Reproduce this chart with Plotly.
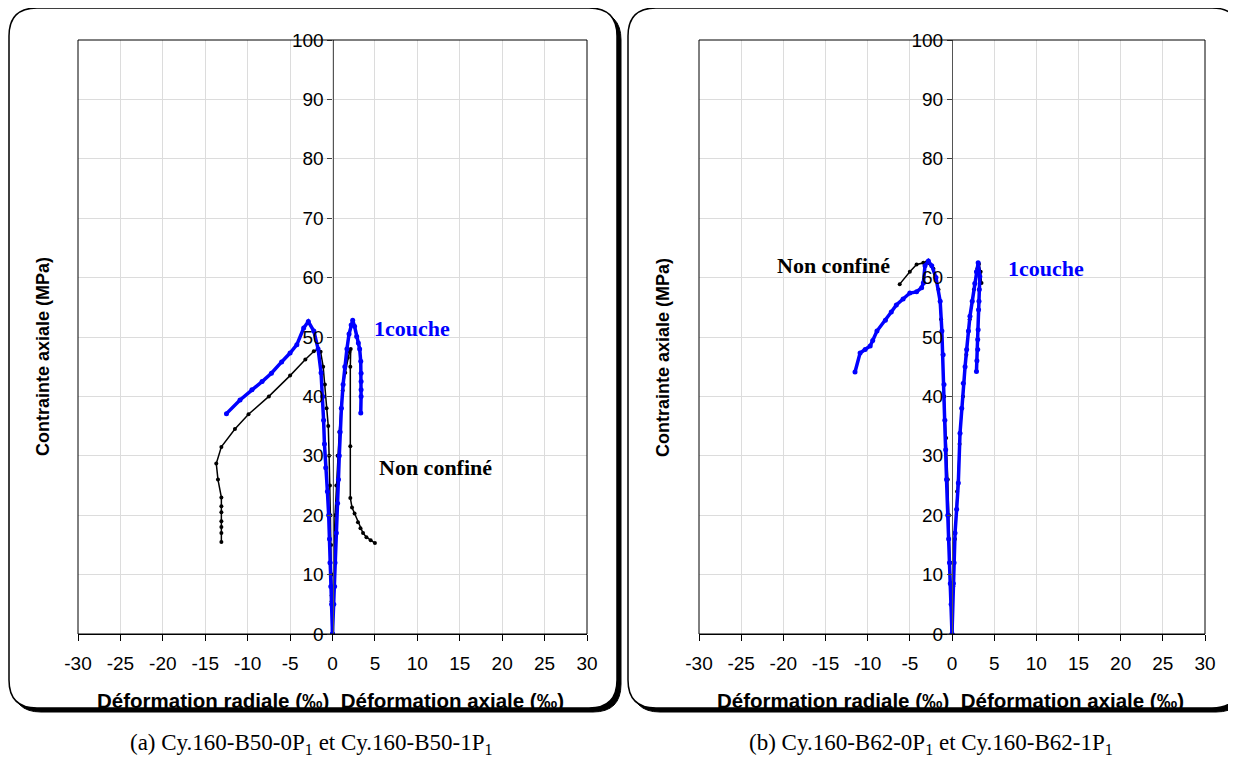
import plotly.graph_objects as go

W, H = 1236, 782
OFF = 8  # page body margin of the rendered html

# ---------------- data ----------------
# Panel (a) Cy.160-B50
a_nc_rad_x = [0, -0.1, -0.1, -0.15, -0.2, -0.25, -0.3, -0.4, -0.5, -0.7, -0.9, -1.1, -1.4, -1.7, -2.2, -3.2, -5.0,
              -7.5, -9.9, -11.5, -13.1, -13.7, -13.5, -13.1, -13.1, -13.1, -13.1, -13.1, -13.1, -13.1]
a_nc_rad_y = [0, 5.5, 6.5, 10, 15, 20, 25, 30, 35, 38, 42, 45, 47.5, 48, 47.6, 46.2, 43.5,
              40, 37, 34.5, 31.5, 28.7, 26, 23, 21.5, 20.5, 19, 18, 17, 15.5]
a_nc_ax_x = [0, 0.05, 0.1, 0.2, 0.3, 0.45, 0.6, 0.8, 1.0, 1.2, 1.5, 1.8, 2.0, 2.15, 2.1, 2.1, 2.1,
             2.3, 2.6, 3.0, 3.3, 3.6, 4.0, 4.5, 5.0]
a_nc_ax_y = [0, 5.5, 10, 15, 20, 25, 30, 34, 38, 41, 44, 46.5, 47.5, 48, 45, 31.6, 22.9,
             21.3, 20.3, 18.8, 17.8, 17.0, 16.3, 15.8, 15.3]
a_c1_rad_x = [0, -0.1, -0.2, -0.3, -0.35, -0.45, -0.6, -0.8, -0.95, -1.05, -1.15, -1.35, -1.7, -2.2, -2.85,
              -3.4, -4.2, -5.0, -6.0, -7.2, -8.3, -9.5, -10.9, -12.5]
a_c1_rad_y = [0, 5, 8, 12, 16, 20, 24, 28, 32, 36, 40, 44, 48, 51, 52.6,
              51.5, 48.7, 47.3, 45.8, 43.9, 42.5, 41.1, 39.4, 37.1]
a_c1_ax_x = [0, 0.15, 0.25, 0.3, 0.45, 0.6, 0.7, 0.8, 0.9, 1.05, 1.25, 1.45, 1.7, 1.95, 2.2, 2.38,
             2.6, 2.85, 3.05, 3.2, 3.33, 3.37, 3.37, 3.37, 3.37, 3.33]
a_c1_ax_y = [0, 5, 8, 12, 17, 22, 26, 30, 34, 38, 42, 45, 48, 50.5, 52, 52.8,
             51.8, 50.1, 49, 48, 45.9, 43.9, 42.5, 41.1, 40, 37.2]

# Panel (b) Cy.160-B62
b_nc_rad_x = [0, -0.1, -0.2, -0.35, -0.5, -0.7, -0.9, -1.1, -1.3, -1.6, -2.2, -3.0, -3.4, -4.2, -5.0, -6.2]
b_nc_rad_y = [0, 6, 12, 20, 26, 33, 40, 47, 53, 58, 61.5, 62.6, 62.5, 62.2, 61.0, 58.9]
b_nc_ax_x = [0, 0.15, 0.35, 0.6, 0.9, 1.3, 1.7, 2.1, 2.6, 3.0, 3.2, 3.4, 3.5]
b_nc_ax_y = [0, 8, 16, 24, 32, 40, 47, 53, 58, 61.5, 62.3, 61, 59.1]
b_c1_rad_x = [0, -0.1, -0.2, -0.3, -0.4, -0.5, -0.65, -0.75, -0.85, -0.95, -1.05, -1.2, -1.4, -1.9, -2.4,
              -2.8, -3.2, -3.4, -3.6, -4.2, -5.0, -5.8, -6.6, -7.2, -7.9, -8.9, -9.4, -9.7, -10.3, -10.9, -11.5]
b_c1_rad_y = [0, 5, 8.5, 12, 16, 20, 26, 31, 36, 42, 47, 51, 56, 60, 62,
              62.8, 62.0, 59.1, 58.3, 57.6, 57.4, 56.4, 55.4, 54.2, 52.8, 51.0, 49.4, 48.5, 47.9, 47.3, 44.1]
b_c1_ax_x = [0, 0.16, 0.25, 0.36, 0.55, 0.75, 0.95, 1.15, 1.34, 1.55, 1.74, 1.95, 2.13, 2.4, 2.7, 2.9,
             3.1, 3.3, 3.24, 3.2, 3.15, 3.1, 3.05, 3.05, 2.95, 2.9]
b_c1_ax_y = [0, 8.5, 12, 17, 21, 25.4, 33.8, 38, 42.2, 45, 47.9, 51, 53.5, 56, 59, 61,
             62.5, 60.2, 58, 56, 54.6, 51.2, 49.6, 47.9, 46, 44.2]

x_ticks = [-30, -25, -20, -15, -10, -5, 0, 5, 10, 15, 20, 25, 30]
y_ticks = [0, 10, 20, 30, 40, 50, 60, 70, 80, 90, 100]

label_nc = "Non confiné"
label_c1 = "1couche"
x_title = "Déformation radiale (‰)  Déformation axiale (‰)"
y_title = "Contrainte axiale (MPa)"
caption_a = "(a) Cy.160-B50-0P<sub>1</sub> et Cy.160-B50-1P<sub>1</sub>"
caption_b = "(b) Cy.160-B62-0P<sub>1</sub> et Cy.160-B62-1P<sub>1</sub>"

BLUE = "#0000ff"
BLACK = "#000000"


def px(x):
    return (x - OFF) / W


def py(y):
    return 1 - (y - OFF) / H


fig = go.Figure()

panels = [
    dict(xa="x", ya="y", data=[(a_nc_rad_x, a_nc_rad_y, BLACK), (a_nc_ax_x, a_nc_ax_y, BLACK),
                               (a_c1_rad_x, a_c1_rad_y, BLUE), (a_c1_ax_x, a_c1_ax_y, BLUE)]),
    dict(xa="x2", ya="y2", data=[(b_nc_rad_x, b_nc_rad_y, BLACK), (b_nc_ax_x, b_nc_ax_y, BLACK),
                                 (b_c1_rad_x, b_c1_rad_y, BLUE), (b_c1_ax_x, b_c1_ax_y, BLUE)]),
]
for p in panels:
    for xs, ys, c in p["data"]:
        blue = c == BLUE
        fig.add_trace(go.Scatter(
            x=xs, y=ys, xaxis=p["xa"], yaxis=p["ya"], mode="lines+markers",
            line=dict(color=c, width=3.5 if blue else 1.5),
            marker=dict(color=c, size=5 if blue else 4),
            hoverinfo="skip", showlegend=False))

tickfont = dict(family="Liberation Sans, Arial", size=19, color="black")
grid = "#dcdcdc"

# plot areas in pixels (reference coordinates)
L = dict(x0=78, x1=587, yaxpos=332.5)
R = dict(x0=699, x1=1205, yaxpos=952)
top, bot = 40, 634

common_x = dict(range=[-30, 30], tickvals=x_ticks, ticktext=[str(v) for v in x_ticks],
                ticks="outside", ticklen=6, tickcolor="black", ticklabelstandoff=6,
                showline=True, linecolor="black", linewidth=1, showgrid=True, gridcolor=grid,
                gridwidth=1, zeroline=False, tickfont=tickfont, fixedrange=True, automargin=False)
common_y = dict(range=[0, 100], tickvals=y_ticks, ticktext=[str(v) for v in y_ticks],
                ticks="outside", ticklen=5, tickcolor="#444",
                showline=True, linecolor="#555", linewidth=1.2, showgrid=True, gridcolor=grid,
                gridwidth=1, zeroline=False, tickfont=tickfont, anchor="free", fixedrange=True,
                automargin=False)

fig.update_layout(
    width=W, height=H, margin=dict(l=0, r=0, t=0, b=0, pad=0, autoexpand=False),
    paper_bgcolor="white", plot_bgcolor="rgba(0,0,0,0)", showlegend=False,
    xaxis=dict(domain=[px(L["x0"]), px(L["x1"])], anchor="y", **common_x),
    yaxis=dict(domain=[py(bot), py(top)], position=px(L["yaxpos"]), **common_y),
    xaxis2=dict(domain=[px(R["x0"]), px(R["x1"])], anchor="y2", **common_x),
    yaxis2=dict(domain=[py(bot), py(top)], position=px(R["yaxpos"]), **common_y),
)


def rounded_path(x0, y0, x1, y1, r):
    pts = [
        f"M {px(x0 + r)},{py(y0)}",
        f"L {px(x1 - r)},{py(y0)}",
        f"Q {px(x1)},{py(y0)} {px(x1)},{py(y0 + r)}",
        f"L {px(x1)},{py(y1 - r)}",
        f"Q {px(x1)},{py(y1)} {px(x1 - r)},{py(y1)}",
        f"L {px(x0 + r)},{py(y1)}",
        f"Q {px(x0)},{py(y1)} {px(x0)},{py(y1 - r)}",
        f"L {px(x0)},{py(y0 + r)}",
        f"Q {px(x0)},{py(y0)} {px(x0 + r)},{py(y0)}",
        "Z",
    ]
    return " ".join(pts)


shapes = []
for (bx0, bx1) in [(9, 617), (628, 1240)]:
    by0, by1 = 8, 708
    shapes.append(dict(type="path", xref="paper", yref="paper", layer="below",
                       path=rounded_path(bx0 + 4, by0 + 4, bx1 + 4, by1 + 4, 28),
                       fillcolor="black", line=dict(color="black", width=1)))
    shapes.append(dict(type="path", xref="paper", yref="paper", layer="below",
                       path=rounded_path(bx0, by0, bx1, by1, 28),
                       fillcolor="white", line=dict(color="black", width=1.5)))
for xr, yr in [("x domain", "y domain"), ("x2 domain", "y2 domain")]:
    shapes.append(dict(type="rect", xref=xr, yref=yr, x0=0, x1=1, y0=0, y1=1,
                       line=dict(color="black", width=1), layer="above"))
fig.update_layout(shapes=shapes)

ann = []
serif_bold = "Liberation Serif, Times New Roman"
for xa, ya, xt, yt, txt, col in [
    ("x", "y", 9.4, 51.5, label_c1, BLUE),
    ("x", "y", 12.1, 28.1, label_nc, BLACK),
    ("x2", "y2", -14.1, 62.0, label_nc, BLACK),
    ("x2", "y2", 11.2, 61.6, label_c1, BLUE),
]:
    ann.append(dict(xref=xa, yref=ya, x=xt, y=yt, text=f"<b>{txt}</b>", showarrow=False,
                    xanchor="center", yanchor="middle",
                    font=dict(family=serif_bold, size=22, color=col)))

for cx, ycx in [(330, 43), (950, 663)]:
    ann.append(dict(xref="paper", yref="paper", x=px(cx), y=py(700), text=f"<b>{x_title}</b>",
                    showarrow=False, xanchor="center", yanchor="middle",
                    font=dict(family="Liberation Sans, Arial", size=20.5, color="black")))
    ann.append(dict(xref="paper", yref="paper", x=px(ycx), y=py(357), text=f"<b>{y_title}</b>",
                    showarrow=False, textangle=-90, xanchor="center", yanchor="middle",
                    font=dict(family="Liberation Sans, Arial", size=18, color="black")))

for cx, txt in [(311, caption_a), (931, caption_b)]:
    ann.append(dict(xref="paper", yref="paper", x=px(cx), y=py(744), text=txt, showarrow=False,
                    xanchor="center", yanchor="middle",
                    font=dict(family="Liberation Serif, Times New Roman", size=23, color="black")))

fig.update_layout(annotations=ann)

fig.write_html("out.html")
